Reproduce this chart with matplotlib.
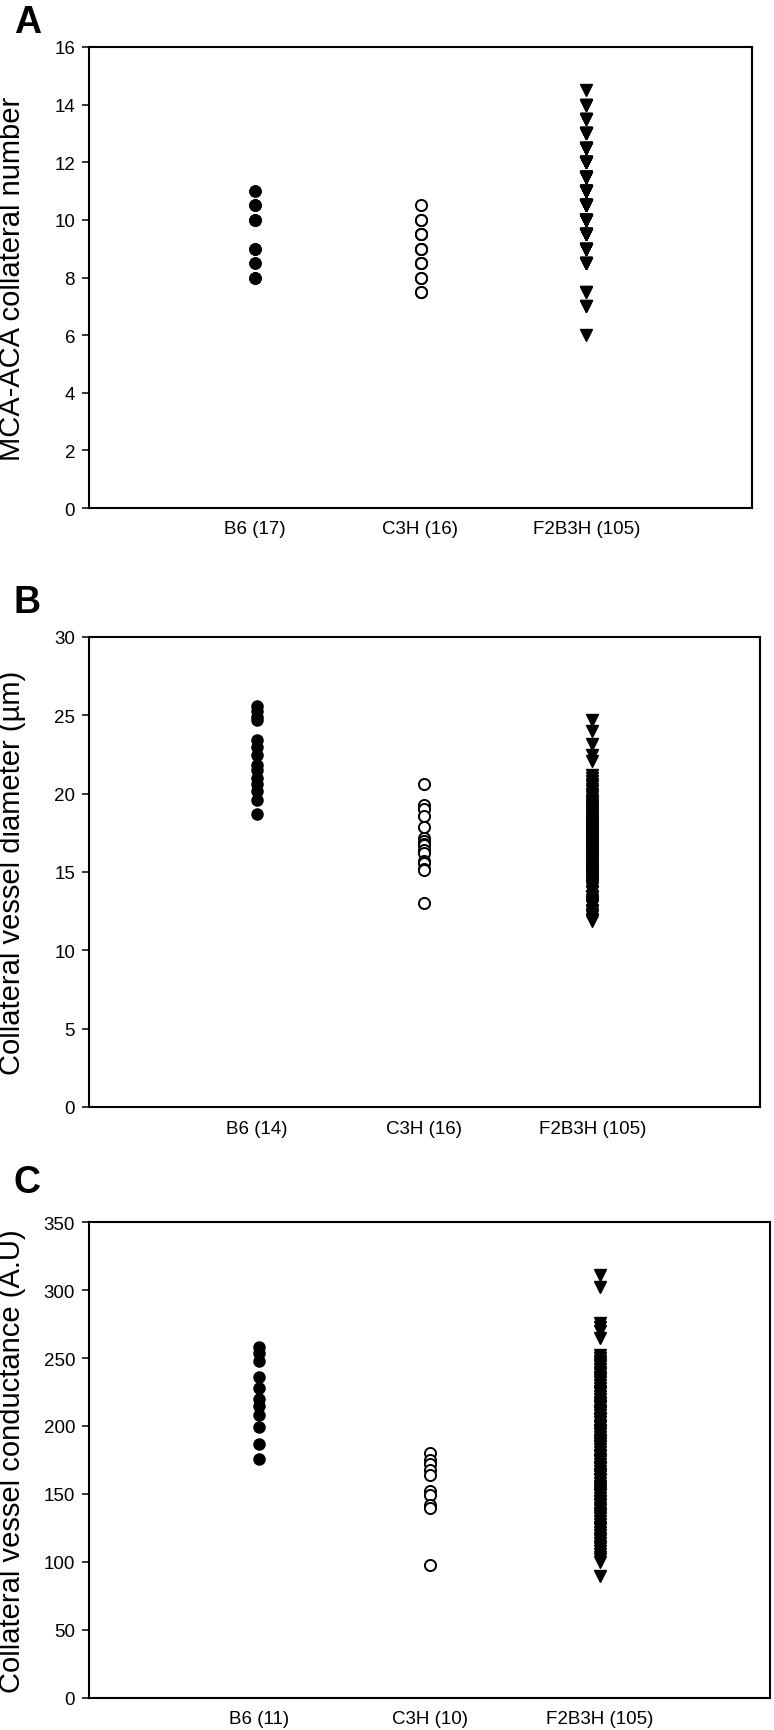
import numpy as np
import matplotlib
matplotlib.use("Agg")
import matplotlib.pyplot as plt

#%% data

groups = ["B6", "C3H", "F2B3H"]

# panel A - MCA-ACA collateral number
a_n = [17, 16, 105]
a_b6 = [8, 8, 8, 8.5, 8.5, 9, 9, 9, 10, 10, 10, 10, 10.5, 10.5, 10.5, 11, 11]
a_c3h = [7.5, 7.5, 8, 8, 8.5, 8.5, 8.5, 9, 9, 9, 9.5, 9.5, 9.5, 10, 10, 10.5]
a_f2_vals = [6, 7, 7.5, 8.5, 9, 9.5, 10, 10.5, 11, 11.5, 12, 12.5, 13, 13.5, 14, 14.5]
a_f2_count = [1, 2, 2, 5, 8, 9, 11, 12, 12, 11, 10, 8, 6, 4, 3, 1]
a_f2 = np.repeat(a_f2_vals, a_f2_count)

# panel B - collateral diameter (um)
b_n = [14, 16, 105]
b_b6 = [25.6, 25.3, 24.9, 24.7, 23.4, 23.0, 22.5, 21.8, 21.5, 21.0, 20.6, 20.2, 19.6, 18.7]
b_c3h = [20.6, 19.3, 19.0, 18.6, 17.9, 17.2, 17.0, 16.8, 16.7, 16.4, 16.2, 15.7, 15.6,
         15.2, 15.1, 13.0]
b_f2 = [24.7, 24.0, 23.2, 22.5, 22.1,
        21.2, 21.0, 20.8, 20.6, 20.5, 20.3, 20.2, 20.0, 19.9, 19.8,
        19.6, 19.5, 19.4, 19.3, 19.1, 19.0, 18.9, 18.8, 18.7, 18.5,
        18.4, 18.3, 18.2, 18.1, 18.0, 17.9, 17.8, 17.7, 17.6, 17.5,
        17.4, 17.3, 17.2, 17.1, 17.0, 16.9, 16.8, 16.8, 16.7, 16.6,
        16.5, 16.4, 16.3, 16.2, 16.1, 16.0, 15.9, 15.8, 15.7, 15.6,
        15.5, 15.4, 15.3, 15.2, 15.1, 15.0, 14.9, 14.8, 14.7, 14.6,
        14.5, 14.4, 14.3, 14.2, 14.1, 14.0, 13.8, 13.7, 13.5, 13.4,
        13.2, 13.1, 12.9, 12.8, 12.6, 12.5, 12.3, 12.2, 12.0, 11.9,
        19.2, 18.6, 18.1, 17.7, 17.3, 16.9, 16.6, 16.3, 16.0, 15.7,
        15.4, 15.1, 14.8, 14.5, 14.2, 17.5, 18.0, 16.5, 15.0, 13.0]

# panel C - collateral conductance (A.U)
c_n = [11, 10, 105]
c_b6 = [258, 254, 248, 236, 228, 220, 215, 208, 199, 187, 176]
c_c3h = [180, 175, 172, 168, 164, 152, 149, 142, 140, 98]
c_f2 = [311, 302, 276, 273, 270, 265,
        252, 250, 248, 246, 244, 242, 240, 238, 236, 234,
        232, 230, 228, 226, 224, 222, 220, 218, 216, 214,
        212, 210, 208, 206, 205, 203, 201, 199, 197, 196,
        194, 192, 190, 188, 187, 185, 183, 181, 179, 178,
        176, 174, 172, 170, 169, 167, 165, 163, 161, 160,
        158, 156, 154, 152, 151, 149, 147, 145, 143, 142,
        140, 138, 136, 134, 132, 130, 128, 126, 124, 122,
        120, 118, 116, 114, 112, 110, 108, 106, 104, 102,
        100, 245, 235, 225, 215, 205, 195, 185, 175, 165,
        155, 145, 135, 125, 190, 170, 150, 210, 90]

#%% figure

W, H = 774, 1731
fig = plt.figure(figsize=(W / 100, H / 100), dpi=100)

tickfont = ["Liberation Sans Narrow", "Liberation Sans", "DejaVu Sans"]
labfont = ["Liberation Sans", "DejaVu Sans"]

def panel(px, letter, letter_xy, ylab, ymax, ystep, n, b6, c3h, f2):
    l, r, t, b = px
    ax = fig.add_axes([l / W, 1 - b / H, (r - l) / W, (b - t) / H])
    ax.plot(np.full(len(b6), 1), b6, "o", color="black", ms=8, mec="black")
    ax.plot(np.full(len(c3h), 2), c3h, "o", mfc="white", mec="black", ms=8, mew=1.4)
    ax.plot(np.full(len(f2), 3), f2, "v", color="black", ms=8.5)
    ax.set_xlim(0, 4)
    ax.set_ylim(0, ymax)
    ax.set_yticks(np.arange(0, ymax + ystep / 2, ystep))
    ax.set_xticks([1, 2, 3])
    ax.set_xticklabels([f"{g} ({k})" for g, k in zip(groups, n)],
                       family=tickfont, fontsize=13.5)
    for lab in ax.get_yticklabels():
        lab.set_family(tickfont)
        lab.set_fontsize(13.5)
    ax.tick_params(axis="x", length=0, pad=9)
    ax.tick_params(axis="y", direction="out", length=5, width=1.1, pad=5)
    for s in ax.spines.values():
        s.set_linewidth(1.5)
    fig.text(12 / W, 1 - (t + b) / 2 / H, ylab, rotation=90, ha="center", va="center",
             family=labfont, fontsize=21)
    fig.text(letter_xy[0] / W, 1 - letter_xy[1] / H, letter, ha="left", va="top",
             family=labfont, fontsize=27, fontweight="bold")
    return ax

panel((89, 752, 48, 509), "A", (14, 5), "MCA-ACA collateral number", 16, 2,
      a_n, a_b6, a_c3h, a_f2)
panel((89, 760, 638, 1108), "B", (14, 585), "Collateral vessel diameter (\u00b5m)", 30, 5,
      b_n, b_b6, b_c3h, b_f2)
panel((89, 770, 1223, 1699), "C", (14, 1165), "Collateral vessel conductance (A.U)", 350, 50,
      c_n, c_b6, c_c3h, c_f2)

fig.savefig("out.png", dpi=100)
